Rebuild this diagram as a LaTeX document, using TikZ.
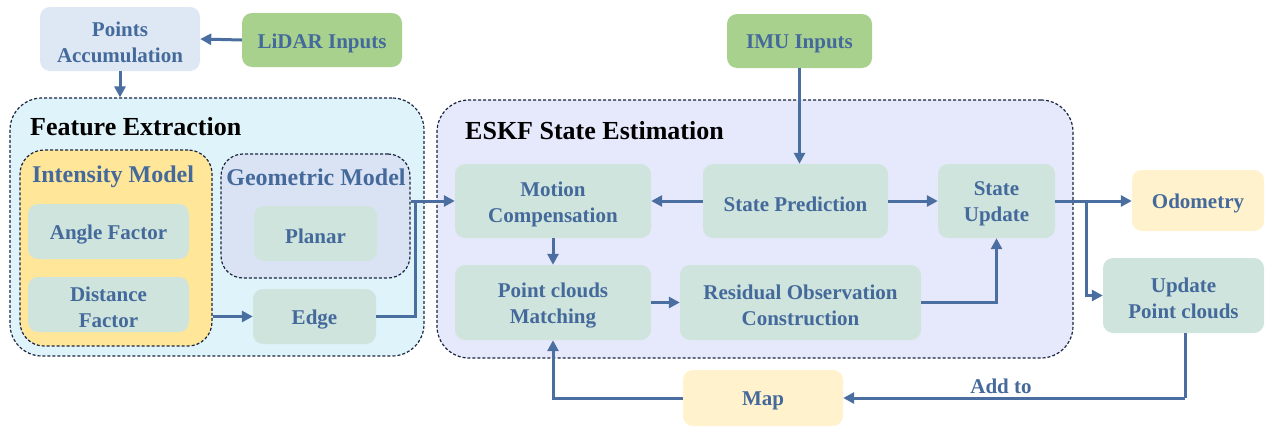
\documentclass[tikz,border=0pt]{standalone}
\usepackage{fontspec}
\setmainfont{Liberation Serif}
\usetikzlibrary{arrows.meta,positioning}
\definecolor{txtblue}{HTML}{44699B}
\definecolor{linkblue}{HTML}{4A6EA0}
\definecolor{inner}{HTML}{CFE4DC}
\definecolor{inputgreen}{HTML}{A9D18E}
\definecolor{accblue}{HTML}{DEE8F4}
\definecolor{feblue}{HTML}{DFF3FB}
\definecolor{intyellow}{HTML}{FFE699}
\definecolor{geoblue}{HTML}{DAE3F3}
\definecolor{eskfviolet}{HTML}{E6E9FC}
\definecolor{outyellow}{HTML}{FFF2CC}
\definecolor{dashline}{HTML}{1A2540}
\tikzset{
  blk/.style={rounded corners=10pt, fill=inner, inner sep=0pt},
  lbl/.style={text=txtblue, inner sep=0pt, yshift=-3pt,
    font=\bfseries\fontsize{21}{26}\selectfont, align=center},
  group/.style={draw=dashline, line width=1.2pt, dash pattern=on 3pt off 2pt, inner sep=0pt},
  link/.style={draw=linkblue, line width=3pt, -{Triangle[length=11pt,width=11pt]}},
  plain/.style={draw=linkblue, line width=3pt},
  grouptitle/.style={font=\bfseries\fontsize{26}{30}\selectfont, anchor=west, inner sep=0pt},
  subtitle/.style={font=\bfseries\fontsize{24}{28}\selectfont, text=txtblue, inner sep=0pt}
}
\begin{document}
\begin{tikzpicture}[x=1pt,y=-1pt]
\useasboundingbox (0,0) rectangle (1267,426);

% group containers
\node[group, rounded corners=32pt, fill=feblue, minimum width=414pt, minimum height=258pt] (fe) at (217,227) {};
\node[group, rounded corners=32pt, fill=eskfviolet, minimum width=636pt, minimum height=258pt] (eskf) at (755,229) {};
\node[group, rounded corners=24pt, fill=intyellow, minimum width=192pt, minimum height=196pt] (im) at (116,248) {};
\node[group, rounded corners=22pt, fill=geoblue, minimum width=189pt, minimum height=124pt] (gm) at (315.5,216) {};

\node[grouptitle] (fet) at (30,127) {Feature Extraction};
\node[grouptitle] (eskft) at (465,131) {ESKF State Estimation};
\node[subtitle] (imt) at (113,177) {Intensity Model};
\node[subtitle] (gmt) at (316,177) {Geometric Model};

% inputs and accumulation
\node[blk, fill=accblue, minimum width=160pt, minimum height=64pt,
  label={[lbl]center:Points\\Accumulation}] (pa) at (120,39) {};
\node[blk, fill=inputgreen, minimum width=160pt, minimum height=54pt,
  label={[lbl]center:LiDAR Inputs}] (lidar) at (322,40) {};
\node[blk, fill=inputgreen, minimum width=145pt, minimum height=54pt,
  label={[lbl]center:IMU Inputs}] (imu) at (799.5,41) {};

% feature extraction blocks
\node[blk, minimum width=161pt, minimum height=55pt,
  label={[lbl]center:Angle Factor}] (af) at (108.5,231.5) {};
\node[blk, minimum width=161pt, minimum height=55pt,
  label={[lbl]center:Distance\\Factor}] (df) at (108.5,304.5) {};
\node[blk, minimum width=123pt, minimum height=55pt,
  label={[lbl]center:Planar}] (planar) at (315.5,233.5) {};
\node[blk, minimum width=123pt, minimum height=55pt,
  label={[lbl]center:Edge}] (edge) at (314.5,316.5) {};

% state estimation blocks
\node[blk, minimum width=196pt, minimum height=74pt,
  label={[lbl]center:Motion\\Compensation}] (mc) at (553,201) {};
\node[blk, minimum width=185pt, minimum height=74pt,
  label={[lbl]center:State Prediction}] (sp) at (795.5,201) {};
\node[blk, minimum width=117pt, minimum height=74pt,
  label={[lbl]center:State\\Update}] (su) at (996.5,201) {};
\node[blk, minimum width=196pt, minimum height=75pt,
  label={[lbl]center:Point clouds\\Matching}] (pcm) at (553,302.5) {};
\node[blk, minimum width=241pt, minimum height=75pt,
  label={[lbl]center:Residual Observation\\Construction}] (roc) at (800.5,302.5) {};

% outputs
\node[blk, fill=outyellow, minimum width=132pt, minimum height=61pt,
  label={[lbl]center:Odometry}] (odo) at (1198,200.5) {};
\node[blk, minimum width=161pt, minimum height=75pt,
  label={[lbl]center:Update\\Point clouds}] (upc) at (1183.5,295.5) {};
\node[blk, fill=outyellow, minimum width=160pt, minimum height=56pt,
  label={[lbl]center:Map}] (map) at (763,398) {};

% junctions
\coordinate (j1) at (415,201);
\coordinate (j2) at (1086,201);
\coordinate (j3) at (1185,398);

% connectors
\draw[link] (lidar.west) -- (pa.east);
\draw[link] (pa.south) -- (pa.south |- fe.north);
\draw[link] (im.east |- edge.west) -- (edge.west);
\draw[plain] (edge.east) -| (j1);
\draw[link] (gm.east |- mc.west) -- (mc.west);
\draw[link] (imu.south) -- (imu.south |- sp.north);
\draw[link] (sp.west) -- (mc.east);
\draw[link] (sp.east) -- (su.west);
\draw[link] (mc.south) -- (pcm.north);
\draw[link] (pcm.east) -- (roc.west);
\draw[link] (roc.east) -| (su.south);
\draw[link] (su.east) -- (odo.west |- su.east);
\draw[link] (j2) |- (upc.west);
\draw[plain] (upc.south -| j3) -- (j3);
\draw[link] (j3) -- (map.east);
\draw[link] (map.west) -| (pcm.south);
\node[lbl, yshift=3pt] (addto) at (1001,386) {Add to};
\end{tikzpicture}
\end{document}
